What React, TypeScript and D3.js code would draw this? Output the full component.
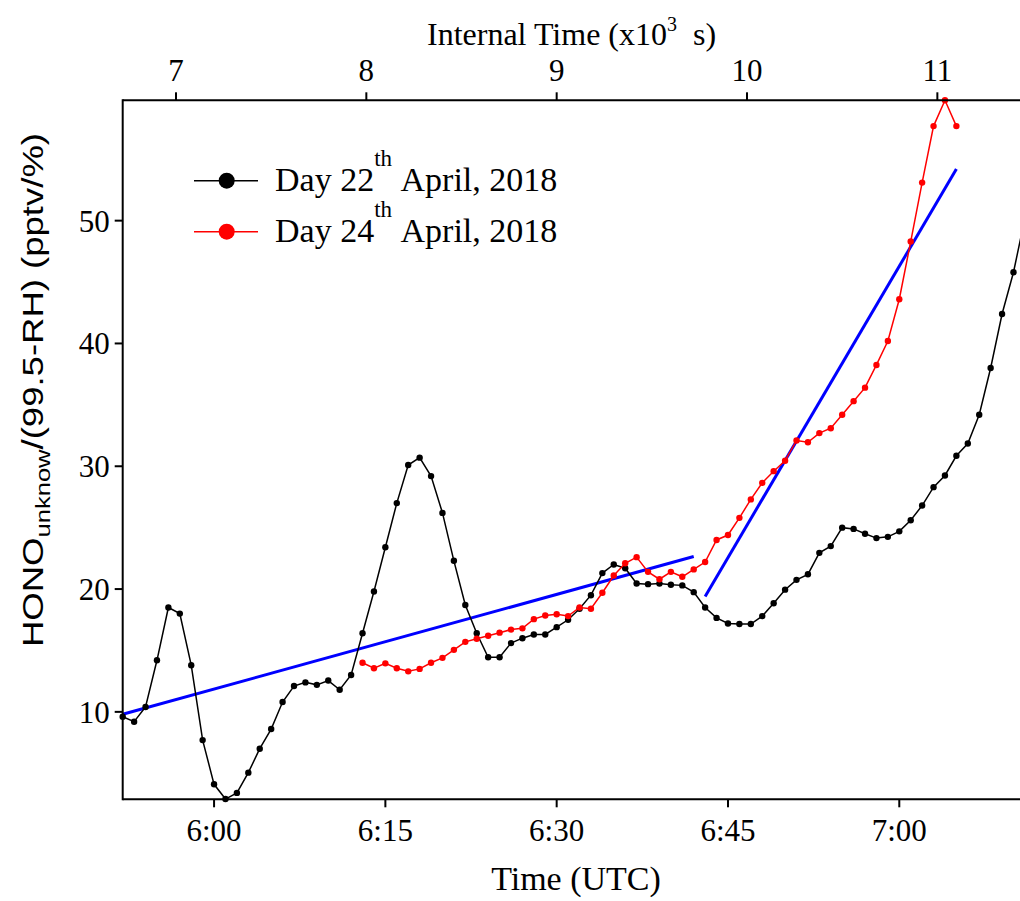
import React from "react";
import * as d3 from "d3";

// ---- Data ----
const day22Times = [
  "5:52","5:53","5:54","5:55","5:56","5:57","5:58","5:59","6:00","6:01","6:02","6:03","6:04","6:05","6:06","6:07","6:08","6:09","6:10","6:11",
  "6:12","6:13","6:14","6:15","6:16","6:17","6:18","6:19","6:20","6:21","6:22","6:23","6:24","6:25","6:26","6:27","6:28","6:29","6:30","6:31",
  "6:32","6:33","6:34","6:35","6:36","6:37","6:38","6:39","6:40","6:41","6:42","6:43","6:44","6:45","6:46","6:47","6:48","6:49","6:50","6:51",
  "6:52","6:53","6:54","6:55","6:56","6:57","6:58","6:59","7:00","7:01","7:02","7:03","7:04","7:05","7:06","7:07","7:08","7:09","7:10","7:11",
];
const day22Values = [
  9.6, 9.2, 10.4, 14.2, 18.5, 18.0, 13.8, 7.7, 4.1, 2.9, 3.4, 5.05, 7.0, 8.6, 10.8, 12.1, 12.4, 12.2, 12.55, 11.8,
  13.0, 16.4, 19.8, 23.4, 27.0, 30.1, 30.7, 29.2, 26.2, 22.3, 18.7, 16.4, 14.45, 14.45, 15.6, 16.0, 16.3, 16.3, 16.9, 17.5,
  18.4, 19.5, 21.3, 22.0, 21.7, 20.45, 20.4, 20.45, 20.35, 20.3, 19.75, 18.5, 17.65, 17.2, 17.15, 17.15, 17.8, 18.85, 19.95, 20.75,
  21.2, 22.95, 23.5, 25.0, 24.9, 24.5, 24.15, 24.25, 24.7, 25.6, 26.8, 28.3, 29.25, 30.85, 31.85, 34.2, 38.0, 42.4, 45.8, 50.2,
];

const day24Times = [
  "6:13","6:14","6:15","6:16","6:17","6:18","6:19","6:20","6:21","6:22","6:23","6:24","6:25","6:26","6:27","6:28","6:29","6:30","6:31","6:32",
  "6:33","6:34","6:35","6:36","6:37","6:38","6:39","6:40","6:41","6:42","6:43","6:44","6:45","6:46","6:47","6:48","6:49","6:50","6:51","6:52",
  "6:53","6:54","6:55","6:56","6:57","6:58","6:59","7:00","7:01","7:02","7:03","7:04","7:05",
];
const day24Values = [
  14.0, 13.55, 13.95, 13.55, 13.3, 13.5, 14.0, 14.4, 15.05, 15.7, 15.95, 16.2, 16.45, 16.7, 16.8, 17.55, 17.85, 17.95, 17.8, 18.5,
  18.4, 19.7, 21.1, 22.1, 22.6, 21.4, 20.8, 21.4, 21.0, 21.6, 22.2, 24.0, 24.4, 25.8, 27.3, 28.65, 29.6, 30.45, 32.1, 31.95,
  32.7, 33.1, 34.2, 35.3, 36.4, 38.25, 40.2, 43.6, 48.3, 53.1, 57.7, 59.8, 57.7,
];

// Linear fits (start time, start value, end time, end value)
const fitStartTimes = ["5:52", "6:43"];
const fitStartValues = [9.8, 19.4];
const fitEndTimes = ["6:42", "7:05"];
const fitEndValues = [22.65, 54.2];

const bottomTickLabels = ["6:00", "6:15", "6:30", "6:45", "7:00"];
const topTickValues = [7000, 8000, 9000, 10000, 11000];
const yTickValues = [10, 20, 30, 40, 50];

const legendLabels = ["22", "24"];
const seriesColors = ["#000000", "#ff0000"];

// ---- helpers ----
const toMin = (s: string) => {
  const [h, m] = s.split(":").map(Number);
  return (h - 6) * 60 + m; // minutes relative to 6:00 UTC
};

const W = 1020;
const H = 901;
const L = 122.7;
const R = 1019.2;
const T = 100.3;
const B = 799.3;

const x = d3.scaleLinear().domain([-8, 70.5]).range([L, R]);
// internal time in seconds = seconds since 4:00 UTC
const xTop = d3
  .scaleLinear()
  .domain([7200 - 8 * 60, 7200 + 70.5 * 60])
  .range([L, R]);
const y = d3.scaleLinear().domain([2.88, 59.8]).range([B, T]);

const serif = "'Liberation Serif', 'Times New Roman', serif";
const sans = "'Liberation Sans', Arial, sans-serif";

export default function App() {
  const line = d3
    .line<[number, number]>()
    .x((d) => x(d[0]))
    .y((d) => y(d[1]));

  const s22: [number, number][] = day22Times.map((t, i) => [toMin(t), day22Values[i]]);
  const s24: [number, number][] = day24Times.map((t, i) => [toMin(t), day24Values[i]]);
  const series = [s22, s24];

  return (
    <svg
      width={W}
      height={H}
      style={{ position: "absolute", left: 0, top: 0, background: "#fff" }}
    >
      <rect x={0} y={0} width={W} height={H} fill="#fff" />

      {/* fits */}
      {fitStartTimes.map((t, i) => (
        <line
          key={"fit" + i}
          x1={x(toMin(t))}
          y1={y(fitStartValues[i])}
          x2={x(toMin(fitEndTimes[i]))}
          y2={y(fitEndValues[i])}
          stroke="#0000ff"
          strokeWidth={3}
        />
      ))}

      {/* series */}
      {series.map((s, si) => (
        <g key={"s" + si}>
          <path d={line(s) || ""} fill="none" stroke={seriesColors[si]} strokeWidth={1.5} />
          {s.map((d, i) => (
            <circle key={i} cx={x(d[0])} cy={y(d[1])} r={3.2} fill={seriesColors[si]} />
          ))}
        </g>
      ))}

      {/* axes */}
      <g stroke="#000" strokeWidth={2}>
        <line x1={L} y1={B} x2={W} y2={B} />
        <line x1={L} y1={T} x2={W} y2={T} />
        <line x1={L} y1={T - 1} x2={L} y2={B + 1} />
        {bottomTickLabels.map((t) => (
          <line key={t} x1={x(toMin(t))} x2={x(toMin(t))} y1={B} y2={B + 8} />
        ))}
        {topTickValues.map((v) => (
          <line key={v} x1={xTop(v)} x2={xTop(v)} y1={T} y2={T - 8} />
        ))}
        {yTickValues.map((v) => (
          <line key={v} x1={L} x2={L - 8} y1={y(v)} y2={y(v)} />
        ))}
      </g>

      <g fontFamily={serif} fontSize={31} fill="#000">
        {bottomTickLabels.map((t) => (
          <text key={t} x={x(toMin(t))} y={B + 42} textAnchor="middle">
            {t}
          </text>
        ))}
        {topTickValues.map((v) => (
          <text key={v} x={xTop(v)} y={T - 19} textAnchor="middle">
            {d3.format("d")(v / 1000)}
          </text>
        ))}
        {yTickValues.map((v) => (
          <text key={v} x={L - 13} y={y(v) + 11} textAnchor="end">
            {v}
          </text>
        ))}
      </g>

      {/* axis titles */}
      <text x={576} y={890} textAnchor="middle" fontFamily={serif} fontSize={34}>
        Time (UTC)
      </text>
      <text x={427} y={45} fontFamily={serif} fontSize={32}>
        Internal Time (x10
        <tspan fontSize={20} dy={-14}>3</tspan>
        <tspan dy={14} xmlSpace="preserve">{"\u00a0\u00a0s)"}</tspan>
      </text>
      <text
        transform={`translate(43, 647) rotate(-90)`}
        fontFamily={sans}
        fontSize={30}
        textLength={514}
        lengthAdjust="spacingAndGlyphs"
      >
        HONO
        <tspan fontSize={21} dy={7}>unknow</tspan>
        <tspan dy={-7}>/(99.5-RH) (pptv/%)</tspan>
      </text>

      {/* legend */}
      {legendLabels.map((lab, i) => {
        const cy = 180.7 + i * 51;
        return (
          <g key={lab}>
            <line x1={194} x2={258} y1={cy} y2={cy} stroke={seriesColors[i]} strokeWidth={1.5} />
            <circle cx={226.7} cy={cy} r={8} fill={seriesColors[i]} />
            <text x={275} y={cy + 10} fontFamily={serif} fontSize={34}>
              Day {lab}
              <tspan fontSize={23} dy={-25}>th</tspan>
              <tspan dy={25}>{"\u00a0April, 2018"}</tspan>
            </text>
          </g>
        );
      })}
    </svg>
  );
}
